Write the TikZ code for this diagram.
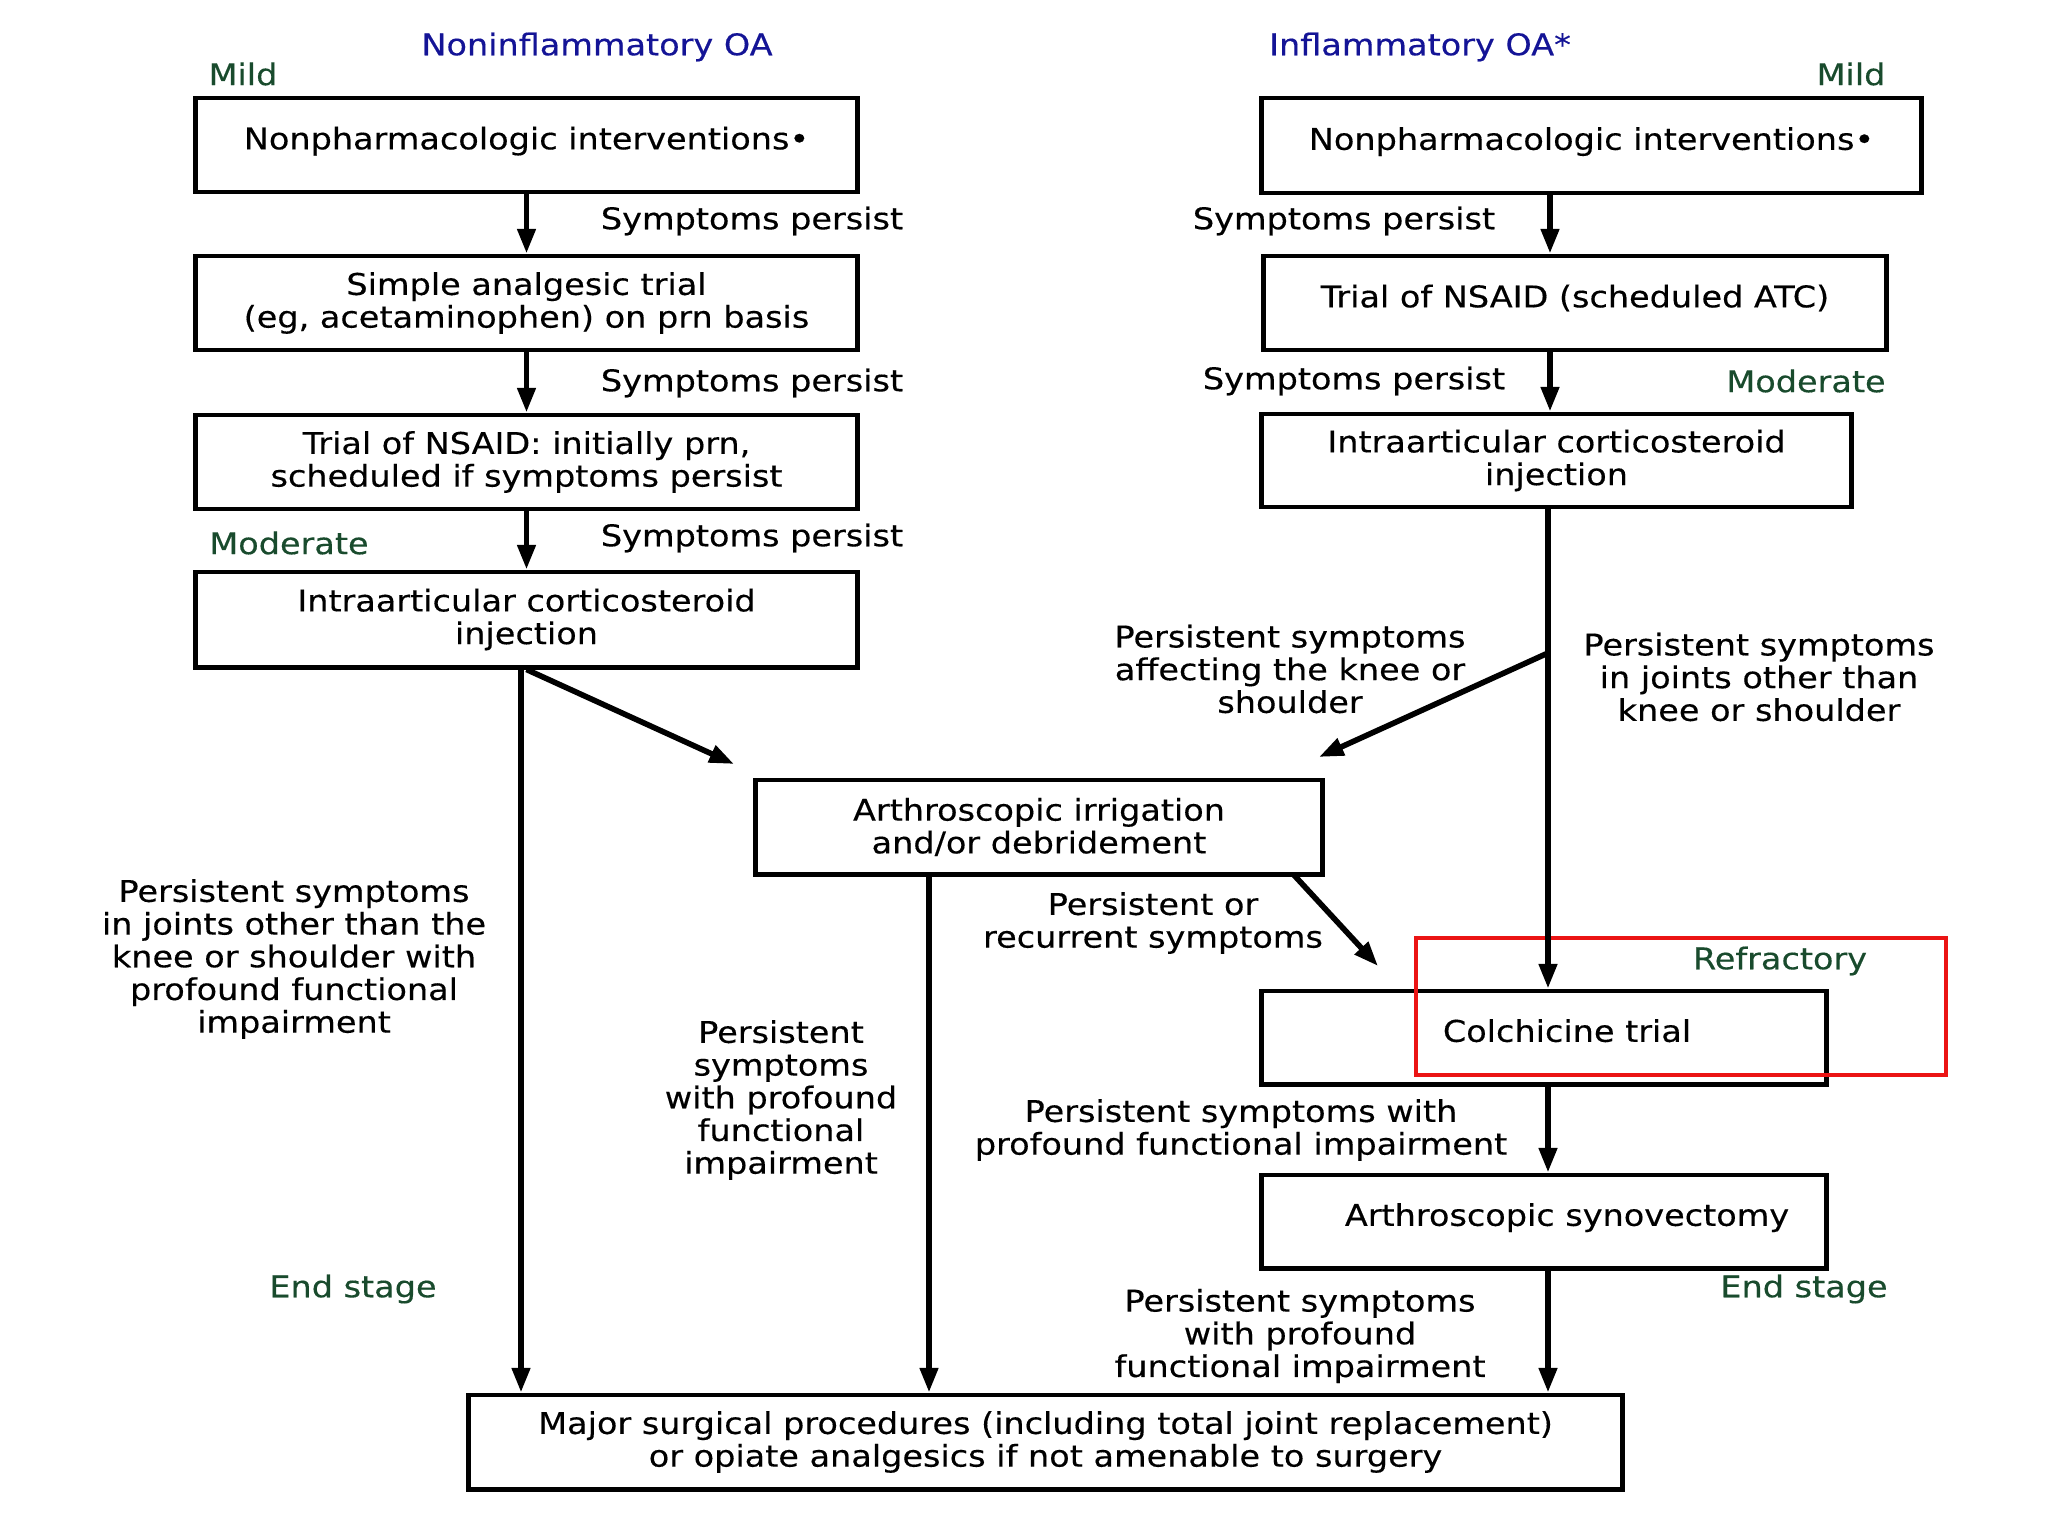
\documentclass[tikz,border=0pt]{standalone}
\usepackage{fontspec}
\setmainfont{DejaVu Sans}[FakeStretch=1.12,FakeBold=0.35]
\usetikzlibrary{arrows.meta,calc}
\definecolor{hblue}{RGB}{20,20,150}
\definecolor{mgreen}{RGB}{25,75,45}
\definecolor{redbox}{RGB}{235,20,20}
\newcommand\dfont{\fontsize{8.5}{9.3}\selectfont}
\begin{document}
\begin{tikzpicture}[x=0.01cm,y=-0.01cm,
  box/.style={draw, line width=1.4pt, align=center, inner sep=0pt, font=\dfont},
  one/.style={text depth=4pt},
  lbl/.style={align=center, font=\dfont, inner sep=0pt},
  head/.style={lbl, text=hblue},
  sev/.style={lbl, text=mgreen},
  conn/.style={line width=1.6pt},
  arr/.style={conn, -{Triangle[length=7pt,width=5pt]}}]
\useasboundingbox (0,0) rectangle (2048,1536);

% column headers
\node[head] (hl) at (597,47) {Noninflammatory OA};
\node[head] (hr) at (1420,47) {Inflammatory OA*};
\node[sev] (ml) at (243,74) {Mild};
\node[sev] (mr) at (1851,74) {Mild};

% left column boxes
\node[box, one, minimum width=6.61cm, minimum height=0.94cm] (b1) at (526.5,145) {Nonpharmacologic interventions•};
\node[box, minimum width=6.61cm, minimum height=0.94cm] (b2) at (526.5,303) {Simple analgesic trial\\(eg, acetaminophen) on prn basis};
\node[box, minimum width=6.61cm, minimum height=0.94cm] (b3) at (526.5,462) {Trial of NSAID: initially prn,\\scheduled if symptoms persist};
\node[box, minimum width=6.61cm, minimum height=0.95cm] (b4) at (526.5,619.5) {Intraarticular corticosteroid\\injection};
\node[box, minimum width=5.66cm, minimum height=0.94cm] (ar) at (1039,827) {Arthroscopic irrigation\\and/or debridement};

% right column boxes
\node[box, one, minimum width=6.59cm, minimum height=0.95cm] (r1) at (1591.5,145.5) {Nonpharmacologic interventions•};
\node[box, one, minimum width=6.22cm, minimum height=0.94cm] (r2) at (1575,303) {Trial of NSAID (scheduled ATC)};
\node[box, minimum width=5.89cm, minimum height=0.93cm] (r3) at (1556.5,460.5) {Intraarticular corticosteroid\\injection};
\node[box, one, minimum width=5.64cm, minimum height=0.93cm] (co) at (1544,1037.5) {\hspace*{0.46cm}Colchicine trial};
\node[box, one, minimum width=5.64cm, minimum height=0.93cm] (sy) at (1544,1221.5) {\hspace*{0.46cm}Arthroscopic synovectomy};
\node[box, minimum width=11.53cm, minimum height=0.94cm] (mj) at (1045.5,1442) {Major surgical procedures (including total joint replacement)\\or opiate analgesics if not amenable to surgery};

% red highlight
\draw[redbox, line width=1.4pt] (1416,938) rectangle (1946,1075);

% reference x positions
\coordinate (xr) at (1550,0);
\coordinate (xl) at (521,0);
\coordinate (xa) at (929,0);
\coordinate (d1) at (734,764);
\coordinate (d2s) at (1548,653);
\coordinate (d2e) at (1319,757);
\coordinate (d3s) at (1293,874);
\coordinate (d3e) at (1378,966);

% left column arrows
\draw[arr] (b1) -- (b2);
\draw[arr] (b2) -- (b3);
\draw[arr] (b3) -- (b4);
\draw[arr] (b4.south -| xl) -- (mj.north -| xl);
\draw[arr] (b4.south) -- (d1);
\draw[arr] (ar.south -| xa) -- (mj.north -| xa);

% right column arrows
\draw[arr] (r1.south -| xr) -- (r2.north -| xr);
\draw[arr] (r2.south -| xr) -- (r3.north -| xr);
\draw[arr] (r3.south -| d2s) -- (co.north -| d2s);
\draw[arr] (d2s) -- (d2e);
\draw[arr] (d3s) -- (d3e);
\draw[arr] (co.south -| d2s) -- (sy.north -| d2s);
\draw[arr] (sy.south -| d2s) -- (mj.north -| d2s);

% labels
\node[lbl] (s1) at (752,221) {Symptoms persist};
\node[lbl] (s2) at (752,383) {Symptoms persist};
\node[lbl] (s3) at (752,538) {Symptoms persist};
\node[sev] (mdl) at (289,543) {Moderate};
\node[lbl] (s4) at (1344,221) {Symptoms persist};
\node[lbl] (s5) at (1354,381) {Symptoms persist};
\node[sev] (mdr) at (1806,381) {Moderate};
\node[lbl] (p1) at (1290,669) {Persistent symptoms\\affecting the knee or\\shoulder};
\node[lbl] (p2) at (1759,677) {Persistent symptoms\\in joints other than\\knee or shoulder};
\node[lbl] (p3) at (294,959) {Persistent symptoms\\in joints other than the\\knee or shoulder with\\profound functional\\impairment};
\node[lbl] (p4) at (781,1100) {Persistent\\symptoms\\with profound\\functional\\impairment};
\node[lbl] (p5) at (1153,923) {Persistent or\\recurrent symptoms};
\node[sev] (rf) at (1780,961) {Refractory};
\node[lbl] (p6) at (1241,1130) {Persistent symptoms with\\profound functional impairment};
\node[sev] (el) at (353,1289) {End stage};
\node[sev] (er) at (1804,1289) {End stage};
\node[lbl] (p7) at (1300,1336) {Persistent symptoms\\with profound\\functional impairment};
\end{tikzpicture}
\end{document}
